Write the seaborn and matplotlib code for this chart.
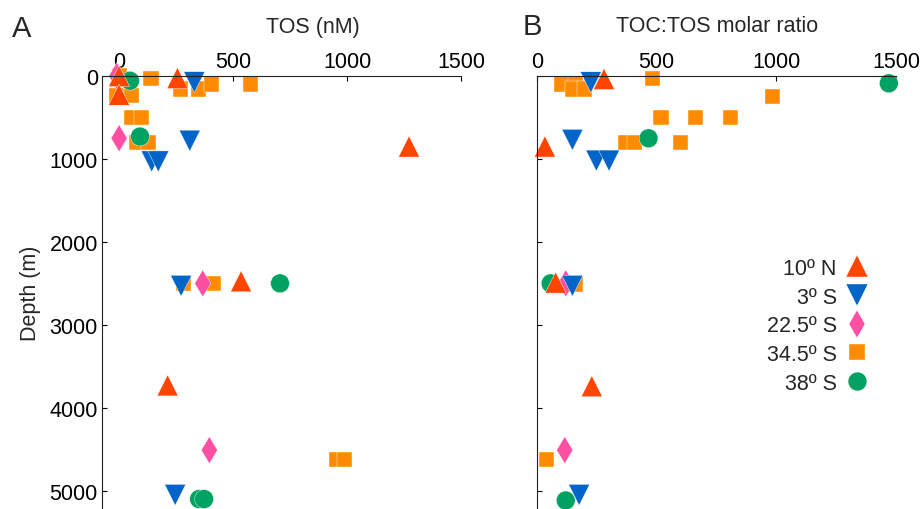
import matplotlib
matplotlib.use("Agg")
import matplotlib.pyplot as plt
from matplotlib.lines import Line2D
import seaborn as sns
import pandas as pd

sns.set_style("ticks")
plt.rcParams['font.family'] = ['Liberation Sans', 'DejaVu Sans']

sites = ["10º N", "3º S", "22.5º S", "34.5º S", "38º S"]
draw_order = ["34.5º S", "38º S", "22.5º S", "3º S", "10º N"]
site_colors = {"10º N": "#FF4500", "3º S": "#0064C8", "22.5º S": "#FF4FA3",
               "34.5º S": "#FF8C00", "38º S": "#00A262"}
site_markers = {"10º N": "^", "3º S": "v", "22.5º S": "d", "34.5º S": "s", "38º S": "o"}
site_sizes = {"10º N": 230, "3º S": 230, "22.5º S": 190, "34.5º S": 118, "38º S": 185}

# panel A: TOS (nM) vs depth (m)
tos_10n = [0, 256, 0, 1272, 535, 213]
tos_10n_depth = [0, 25, 225, 850, 2475, 3730]
tos_3s = [330, 310, 143, 172, 272, 246]
tos_3s_depth = [75, 780, 1030, 1030, 2530, 5050]
tos_22s = [-10, 0, 367, 396]
tos_22s_depth = [0, 750, 2500, 4510]
tos_34s = [0, 140, 268, 348, 407, 575, -10, 55, 56, 100, 78, 129, 282, 414, 954, 989]
tos_34s_depth = [0, 25, 157, 157, 96, 96, 237, 237, 500, 500, 800, 800, 2500, 2500, 4620, 4620]
tos_38s = [48, 92, 706, 351, 373]
tos_38s_depth = [57, 730, 2500, 5100, 5100]

# panel B: TOC:TOS molar ratio vs depth (m)
ratio_10n = [280, 33, 78, 229]
ratio_10n_depth = [36, 850, 2490, 3740]
ratio_3s = [225, 148, 248, 301, 148, 176]
ratio_3s_depth = [76, 770, 1020, 1020, 2530, 5050]
ratio_22s = [120, 116]
ratio_22s_depth = [2500, 4510]
ratio_34s = [102, 159, 150, 200, 483, 985, 518, 661, 810, 368, 406, 601, 162, 39]
ratio_34s_depth = [96, 96, 157, 157, 28, 250, 500, 500, 500, 800, 800, 800, 2510, 4620]
ratio_38s = [1470, 466, 57, 120]
ratio_38s_depth = [88, 751, 2500, 5117]


def make_frame(vals, depths, col):
    rows = []
    for site in draw_order:
        for v, d in zip(vals[site], depths[site]):
            rows.append([site, v, d])
    return pd.DataFrame(rows, columns=["site", col, "depth"])


df_a = make_frame({"10º N": tos_10n, "3º S": tos_3s, "22.5º S": tos_22s, "34.5º S": tos_34s, "38º S": tos_38s},
                  {"10º N": tos_10n_depth, "3º S": tos_3s_depth, "22.5º S": tos_22s_depth,
                   "34.5º S": tos_34s_depth, "38º S": tos_38s_depth}, "tos")
df_b = make_frame({"10º N": ratio_10n, "3º S": ratio_3s, "22.5º S": ratio_22s, "34.5º S": ratio_34s, "38º S": ratio_38s},
                  {"10º N": ratio_10n_depth, "3º S": ratio_3s_depth, "22.5º S": ratio_22s_depth,
                   "34.5º S": ratio_34s_depth, "38º S": ratio_38s_depth}, "ratio")

W, H = 923, 510
fig = plt.figure(figsize=(W / 100, H / 100), dpi=100)
ax_a = fig.add_axes([102 / W, 0, (461 - 102) / W, 1 - 77 / H])
ax_b = fig.add_axes([537 / W, 0, (896 - 537) / W, 1 - 77 / H])

for ax, df, col, xlim in [(ax_a, df_a, "tos", (-75, 1500)), (ax_b, df_b, "ratio", (0, 1500))]:
    sns.scatterplot(data=df, x=col, y="depth", hue="site", style="site", size="site",
                    palette=site_colors, markers=site_markers, sizes=site_sizes,
                    edgecolor="white", linewidth=0.3, legend=False, ax=ax, clip_on=False)
    ax.set_xlim(*xlim)
    ax.set_ylim(5220, 0)
    ax.set_xticks([0, 500, 1000, 1500])
    ax.set_yticks([0, 1000, 2000, 3000, 4000, 5000])
    ax.xaxis.tick_top()
    ax.tick_params(axis="both", direction="in", length=3.6, width=0.8, pad=3,
                   labelsize=15.5, colors="black")
    ax.tick_params(axis="x", top=True, bottom=False)
    for side in ["right", "bottom"]:
        ax.spines[side].set_visible(False)
    for side in ["top", "left"]:
        ax.spines[side].set_linewidth(0.8)
        ax.spines[side].set_color("#222222")
    ax.set_xlabel("")
    ax.set_ylabel("")

ax_b.set_yticklabels([])
ax_a.set_ylabel("Depth (m)", fontsize=15.5, labelpad=6)

fig.text(313 / W, 1 - 27 / H, "TOS (nM)", fontsize=15.5, ha="center", va="center")
fig.text(717 / W, 1 - 27 / H, "TOC:TOS molar ratio", fontsize=15.5, ha="center", va="center")
fig.text(22 / W, 1 - 29 / H, "A", fontsize=21, ha="center", va="center")
fig.text(532 / W, 1 - 27 / H, "B", fontsize=21, ha="center", va="center")

handles = [Line2D([], [], linestyle="none", marker=site_markers[s], color=site_colors[s],
                  markersize=site_sizes[s] ** 0.5, markeredgecolor="white", markeredgewidth=0.3)
           for s in sites]
ax_b.legend(handles, sites, markerfirst=False, frameon=False, fontsize=15.5,
            loc="upper right", bbox_to_anchor=(881 / W, 1 - 248 / H), bbox_transform=fig.transFigure,
            labelspacing=0.36, handletextpad=0.35, handlelength=1.2, borderpad=0)

fig.savefig("out.png", dpi=100)
